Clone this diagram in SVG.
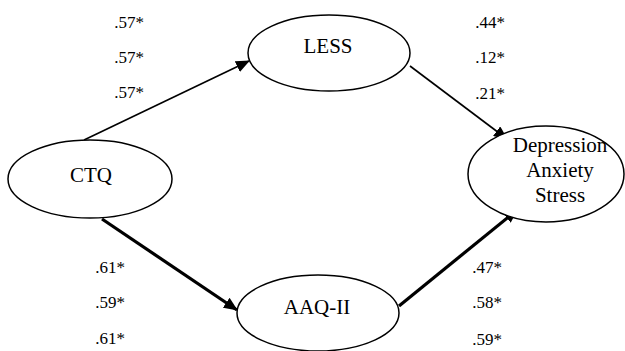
<svg xmlns="http://www.w3.org/2000/svg" width="625" height="351" viewBox="0 0 625 351">
<defs>
<style>
.node{fill:#fff;stroke:#000;stroke-width:1.5}
.lbl{font-family:'Liberation Serif','Times New Roman',Times,serif;font-size:21px;fill:#000;text-anchor:middle}
.coef{font-family:'Liberation Serif','Times New Roman',Times,serif;font-size:17px;fill:#000;text-anchor:middle}
.thin{stroke:#000;stroke-width:1.6;fill:none}
.thick{stroke:#000;stroke-width:3.2;fill:none}
</style>
<marker id="ah" markerUnits="userSpaceOnUse" markerWidth="14" markerHeight="12" viewBox="0 0 14 12" refX="13" refY="6" orient="auto">
<path d="M0,0 L14,6 L0,12 Z" fill="#000"/>
</marker>
</defs>
<rect width="625" height="351" fill="#fff"/>
<g id="connectors">
<line class="thin" x1="84" y1="140" x2="249" y2="61" marker-end="url(#ah)"/>
<line class="thin" x1="410" y1="66" x2="507" y2="139" marker-end="url(#ah)"/>
<line class="thick" x1="102" y1="219" x2="237" y2="310" marker-end="url(#ah)"/>
<line class="thick" x1="399" y1="306" x2="517" y2="210" marker-end="url(#ah)"/>
</g>
<g id="ctq">
<ellipse class="node" cx="90" cy="179" rx="82" ry="39"/>
<text class="lbl" x="91" y="182">CTQ</text>
</g>
<g id="less">
<ellipse class="node" cx="329" cy="53" rx="81" ry="38"/>
<text class="lbl" x="328" y="53">LESS</text>
</g>
<g id="aaq">
<ellipse class="node" cx="318" cy="313" rx="81" ry="38"/>
<text class="lbl" x="317" y="314">AAQ-II</text>
</g>
<g id="das">
<ellipse class="node" cx="546" cy="174" rx="78" ry="48"/>
<text class="lbl" x="560" y="152">Depression</text>
<text class="lbl" x="560" y="177">Anxiety</text>
<text class="lbl" x="560" y="202">Stress</text>
</g>
<g id="coefficients">
<text class="coef" x="129" y="28">.57*</text>
<text class="coef" x="129" y="63">.57*</text>
<text class="coef" x="129" y="98">.57*</text>
<text class="coef" x="490" y="28">.44*</text>
<text class="coef" x="490" y="63">.12*</text>
<text class="coef" x="490" y="99">.21*</text>
<text class="coef" x="110" y="273">.61*</text>
<text class="coef" x="110" y="308">.59*</text>
<text class="coef" x="110" y="344">.61*</text>
<text class="coef" x="487" y="273">.47*</text>
<text class="coef" x="487" y="308">.58*</text>
<text class="coef" x="487" y="345">.59*</text>
</g>
</svg>
